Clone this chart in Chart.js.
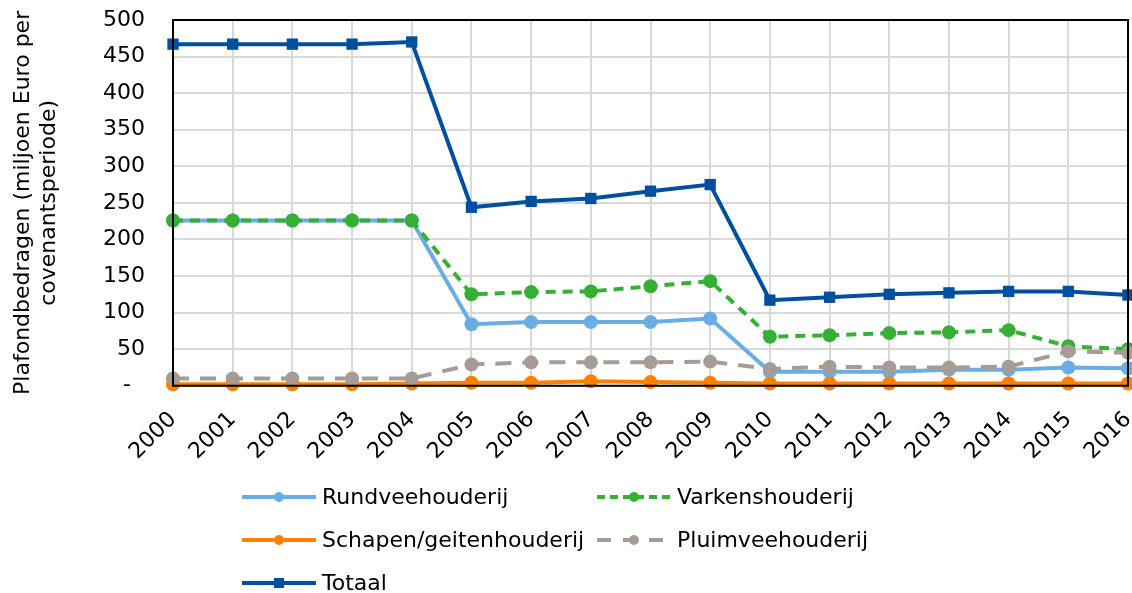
<!DOCTYPE html>
<html>
<head>
<meta charset="utf-8">
<script src="https://cdn.jsdelivr.net/npm/chart.js@4"></script>
<style>
  html, body { margin: 0; padding: 0; background: #fff; }
  #wrap { width: 1132px; height: 593px; position: relative; }
</style>
</head>
<body>
<div id="wrap"><canvas id="plafond"></canvas></div>
<script>
const years = ['2000', '2001', '2002', '2003', '2004', '2005', '2006', '2007', '2008',
    '2009', '2010', '2011', '2012', '2013', '2014', '2015', '2016'];
const rundvee = [226, 226, 226, 226, 226, 84, 87, 87, 87, 92, 19, 19, 19, 22, 22, 25, 24];
const varkens = [226, 226, 226, 226, 226, 125, 128, 129, 136, 143, 67, 69, 72, 73, 76, 54, 50];
const schapen = [2, 2, 2, 2, 3, 4, 4, 6, 5, 4, 3, 3, 3, 3, 3, 3, 3];
const pluimvee = [10, 10, 10, 10, 10, 29, 32, 32, 32, 33, 23, 26, 25, 25, 26, 47, 45];
const totaal = [467, 467, 467, 467, 470, 244, 252, 256, 266, 275, 117, 121, 125, 127, 129, 129, 124];

const FONT = "'DejaVu Sans', Verdana, sans-serif";

// geen extra marge voor de markers aan de rand, het plotgebied loopt tot de rand
Chart.LineController.prototype.getMaxOverflow = function () { return 0; };

// kader rond het plotgebied
const frame = {
    id: 'frame',
    afterDatasetsDraw(chart) {
        const { ctx, chartArea: a } = chart;
        ctx.save();
        ctx.strokeStyle = '#000';
        ctx.lineWidth = 2;
        ctx.strokeRect(a.left, a.top, a.right - a.left, a.bottom - a.top);
        ctx.restore();
    }
};

// legenda in twee kolommen, zoals in Excel
const legend2col = {
    id: 'legend2col',
    afterDraw(chart) {
        const { ctx } = chart;
        const slots = [[242, 497], [597, 497], [242, 540], [597, 540], [242, 583]];
        ctx.save();
        ctx.font = '22px ' + FONT;
        ctx.textBaseline = 'middle';
        chart.data.datasets.forEach((ds, i) => {
            const [x, y] = slots[i];
            ctx.strokeStyle = ds.borderColor;
            ctx.lineWidth = 4;
            ctx.setLineDash(ds.legendDash || []);
            ctx.beginPath();
            ctx.moveTo(x, y);
            ctx.lineTo(x + 74, y);
            ctx.stroke();
            ctx.setLineDash([]);
            ctx.fillStyle = ds.borderColor;
            ctx.beginPath();
            if (ds.pointStyle === 'rect') {
                ctx.rect(x + 37 - 5, y - 5, 10, 10);
            } else {
                ctx.arc(x + 37, y, 5, 0, Math.PI * 2);
            }
            ctx.fill();
            ctx.fillStyle = '#000';
            ctx.fillText(ds.label, x + 80, y + 1);
        });
        ctx.restore();
    }
};

function serie(label, data, color, opts) {
    return Object.assign({
        label: label,
        data: data,
        borderColor: color,
        backgroundColor: color,
        borderWidth: 4,
        pointRadius: 7,
        pointHoverRadius: 7,
        pointStyle: 'circle',
        pointBorderWidth: 0,
        tension: 0,
        fill: false,
        clip: false
    }, opts);
}

new Chart(document.getElementById('plafond'), {
    type: 'line',
    data: {
        labels: years,
        datasets: [
            serie('Rundveehouderij', rundvee, '#6aade4', { order: 4 }),
            serie('Varkenshouderij', varkens, '#35b035', { order: 3, borderDash: [10, 7], legendDash: [8, 5] }),
            serie('Schapen/geitenhouderij', schapen, '#ff7f00', { order: 2 }),
            serie('Pluimveehouderij', pluimvee, '#a59d95', { order: 1, borderDash: [16, 11], legendDash: [14, 12] }),
            serie('Totaal', totaal, '#0050a0', { order: 0, pointStyle: 'rect', pointRadius: 8 })
        ]
    },
    options: {
        responsive: true,
        maintainAspectRatio: false,
        animation: false,
        layout: { padding: { top: 20, right: 4, bottom: 107, left: 0 } },
        plugins: {
            legend: { display: false },
            tooltip: { enabled: false }
        },
        scales: {
            x: {
                offset: false,
                grid: { color: '#d9d9d9', lineWidth: 2, drawTicks: false },
                border: { display: false },
                ticks: {
                    color: '#000',
                    font: { family: FONT, size: 22 },
                    minRotation: 45,
                    maxRotation: 45,
                    padding: 21
                },
                afterFit(scale) {
                    scale.paddingLeft = 0;
                    scale.paddingRight = 0;
                }
            },
            y: {
                min: 0,
                max: 500,
                grid: { color: '#d9d9d9', lineWidth: 2, drawTicks: false },
                border: { display: false },
                ticks: {
                    stepSize: 50,
                    color: '#000',
                    padding: 28,
                    font: { family: FONT, size: 22 },
                    callback: v => v === 0 ? '-  ' : v
                },
                title: {
                    display: true,
                    text: ['Plafondbedragen (miljoen Euro per', 'covenantsperiode)'],
                    color: '#000',
                    font: { family: FONT, size: 22 },
                    padding: { top: 10, bottom: 0 }
                },
                afterFit(scale) {
                    scale.width = 173;
                    scale.paddingTop = 0;
                    scale.paddingBottom = 0;
                }
            }
        }
    },
    plugins: [frame, legend2col]
});
</script>
</body>
</html>
